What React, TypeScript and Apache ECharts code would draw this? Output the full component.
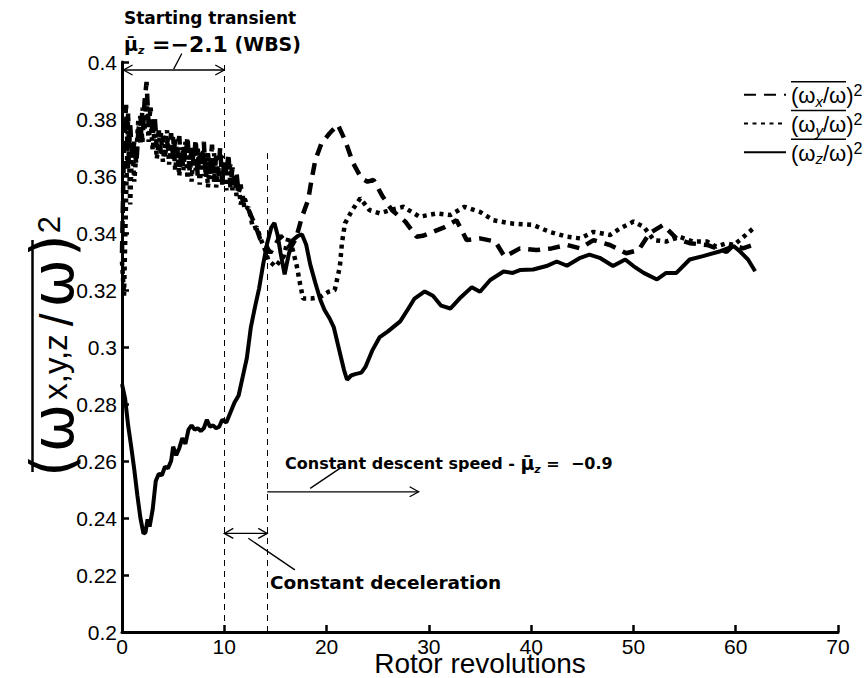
import React, { useEffect, useRef } from "react";
import * as echarts from "echarts";

// ---------- data ----------
const xAxisRange = { min: 0, max: 70, interval: 10 };
const yAxisRange = { min: 0.2, max: 0.4, interval: 0.02 };

// (ω_x/ω)² — dashed
const omegaX: [number, number][] = [
  [0, 0.333], [0.2, 0.372], [0.4, 0.385], [0.6, 0.362], [0.8, 0.378], [1.0, 0.366], [1.2, 0.372], [1.4, 0.364],
  [1.6, 0.376], [1.8, 0.381], [2.0, 0.372], [2.2, 0.386], [2.4, 0.393], [2.6, 0.378], [2.8, 0.384], [3.0, 0.374],
  [3.2, 0.381], [3.4, 0.37], [3.6, 0.376], [3.8, 0.368], [4.0, 0.374], [4.2, 0.367], [4.4, 0.372], [4.6, 0.369],
  [4.8, 0.375], [5.0, 0.366], [5.2, 0.373], [5.4, 0.368], [5.6, 0.374], [5.8, 0.363], [6.0, 0.371], [6.2, 0.366],
  [6.4, 0.374], [6.6, 0.362], [6.8, 0.37], [7.0, 0.364], [7.2, 0.373], [7.4, 0.36], [7.6, 0.369], [7.8, 0.363],
  [8.0, 0.372], [8.2, 0.359], [8.4, 0.368], [8.6, 0.362], [8.8, 0.371], [9.0, 0.358], [9.2, 0.367], [9.4, 0.361],
  [9.6, 0.37], [9.8, 0.357], [10.0, 0.366], [10.2, 0.36], [10.4, 0.368], [10.6, 0.356], [10.8, 0.363], [11.0, 0.357],
  [11.2, 0.361], [11.4, 0.354], [11.6, 0.357], [11.8, 0.351], [12.0, 0.352], [12.5, 0.347], [13.0, 0.343],
  [13.5, 0.338], [14.0, 0.336], [14.5, 0.333], [15.0, 0.336], [15.5, 0.339], [16.0, 0.337], [16.5, 0.335],
  [17.0, 0.338], [17.6, 0.3457], [18.2, 0.3516], [18.5, 0.358], [18.9, 0.3656], [19.5, 0.3715], [20.3, 0.375],
  [21.1, 0.378], [21.8, 0.3726], [22.6, 0.3645], [23.4, 0.3592], [24.0, 0.358], [24.6, 0.3586], [25.5, 0.3527],
  [26.4, 0.348], [27.7, 0.344], [28.8, 0.3387], [29.4, 0.339], [30.4, 0.3404], [31.5, 0.342], [32.7, 0.3445],
  [33.7, 0.3375], [35.0, 0.3381], [36.5, 0.337], [37.4, 0.3317], [38.9, 0.3346], [40.5, 0.334], [42.0, 0.3346],
  [43.5, 0.3358], [44.8, 0.3346], [46.1, 0.3375], [47.7, 0.3358], [49.3, 0.3329], [50.5, 0.334], [51.6, 0.34],
  [52.9, 0.3428], [54.2, 0.3381], [55.5, 0.3364], [57.2, 0.3358], [59.1, 0.3334], [59.8, 0.3358], [60.7, 0.3346],
  [61.7, 0.3358],
];

// (ω_y/ω)² — dotted
const omegaY: [number, number][] = [
  [0, 0.33], [0.2, 0.318], [0.4, 0.352], [0.6, 0.382], [0.8, 0.35], [1.0, 0.372], [1.2, 0.358], [1.4, 0.368],
  [1.6, 0.38], [1.8, 0.371], [2.0, 0.384], [2.2, 0.376], [2.4, 0.388], [2.6, 0.372], [2.8, 0.38], [3.0, 0.369],
  [3.2, 0.377], [3.4, 0.366], [3.6, 0.372], [3.8, 0.375], [4.0, 0.365], [4.2, 0.371], [4.4, 0.376], [4.6, 0.364],
  [4.8, 0.37], [5.0, 0.374], [5.2, 0.362], [5.4, 0.369], [5.6, 0.36], [5.8, 0.37], [6.0, 0.362], [6.2, 0.372],
  [6.4, 0.359], [6.6, 0.368], [6.8, 0.358], [7.0, 0.369], [7.2, 0.362], [7.4, 0.37], [7.6, 0.357], [7.8, 0.366],
  [8.0, 0.36], [8.2, 0.368], [8.4, 0.356], [8.6, 0.365], [8.8, 0.359], [9.0, 0.368], [9.2, 0.356], [9.4, 0.363],
  [9.6, 0.358], [9.8, 0.367], [10.0, 0.361], [10.2, 0.355], [10.4, 0.362], [10.6, 0.364], [10.8, 0.355],
  [11.0, 0.36], [11.2, 0.353], [11.4, 0.357], [11.6, 0.35], [11.8, 0.353], [12.0, 0.348], [12.4, 0.349],
  [12.8, 0.3416], [13.2, 0.342], [13.6, 0.3375], [14.0, 0.334], [14.3, 0.3305], [15.0, 0.3282], [15.8, 0.3317],
  [16.3, 0.3387], [16.7, 0.334], [17.1, 0.3282], [17.4, 0.3223], [17.7, 0.317], [18.5, 0.317], [19.4, 0.3176],
  [20.2, 0.3194], [20.8, 0.32], [21.3, 0.3282], [21.5, 0.3364], [21.8, 0.3434], [22.5, 0.348], [23.3, 0.3522],
  [24.2, 0.348], [25.2, 0.3469], [26.2, 0.348], [27.5, 0.3492], [29.1, 0.3457], [30.8, 0.3469], [32.1, 0.3463],
  [33.5, 0.3492], [35.0, 0.3474], [36.3, 0.3445], [37.9, 0.3434], [40.2, 0.3428], [41.8, 0.3404], [43.5, 0.3387],
  [44.8, 0.3381], [46.1, 0.3404], [47.7, 0.3393], [48.7, 0.3416], [50.0, 0.344], [51.0, 0.3422], [52.0, 0.3375],
  [53.2, 0.337], [54.5, 0.3387], [55.8, 0.337], [57.2, 0.337], [58.1, 0.3352], [59.1, 0.3364], [59.8, 0.3358],
  [60.4, 0.3375], [61.2, 0.34], [61.9, 0.3422],
];

// (ω_z/ω)² — solid
const omegaZ: [number, number][] = [
  [0, 0.287], [0.3, 0.282], [0.6, 0.2725], [0.9, 0.265], [1.2, 0.257], [1.5, 0.248], [1.8, 0.24], [2.1, 0.2345],
  [2.3, 0.235], [2.5, 0.2395], [2.7, 0.237], [3.0, 0.243], [3.3, 0.253], [3.6, 0.2555], [3.9, 0.255], [4.2, 0.258],
  [4.5, 0.2575], [4.8, 0.26], [5.0, 0.265], [5.3, 0.262], [5.6, 0.2645], [5.9, 0.268], [6.2, 0.266], [6.5, 0.271],
  [6.8, 0.2725], [7.1, 0.271], [7.4, 0.2715], [7.7, 0.2705], [8.0, 0.2715], [8.3, 0.2745], [8.6, 0.272],
  [8.9, 0.2725], [9.2, 0.2715], [9.5, 0.272], [9.8, 0.2745], [10.2, 0.2735], [10.6, 0.277], [11.0, 0.2805],
  [11.4, 0.283], [11.8, 0.2895], [12.2, 0.296], [12.6, 0.307], [13.0, 0.314], [13.4, 0.3205], [13.8, 0.329],
  [14.2, 0.3365], [14.6, 0.342], [14.9, 0.3435], [15.2, 0.3395], [15.5, 0.333], [15.9, 0.3255], [16.3, 0.3325],
  [16.7, 0.3375], [17.2, 0.339], [17.6, 0.3395], [18.0, 0.336], [18.4, 0.329], [18.9, 0.3225], [19.4, 0.3165],
  [19.8, 0.313], [20.3, 0.31], [20.7, 0.307], [21.3, 0.298], [21.7, 0.292], [22.0, 0.2885], [22.4, 0.29],
  [22.8, 0.2905], [23.4, 0.291], [23.8, 0.293], [24.5, 0.299], [25.2, 0.3035], [26.0, 0.3055], [27.2, 0.309],
  [28.0, 0.3135], [28.6, 0.317], [29.6, 0.3195], [30.4, 0.318], [31.2, 0.3145], [32.1, 0.3135], [33.0, 0.317],
  [34.2, 0.321], [35.0, 0.3194], [36.0, 0.3235], [37.3, 0.3265], [38.2, 0.326], [38.9, 0.327], [40.2, 0.3272],
  [41.5, 0.3284], [42.5, 0.33], [43.5, 0.3285], [44.8, 0.3313], [45.7, 0.3324], [46.7, 0.3313], [48.0, 0.3284],
  [49.2, 0.3307], [50.0, 0.3284], [51.0, 0.326], [52.3, 0.3237], [53.2, 0.326], [54.2, 0.326], [55.5, 0.3307],
  [56.8, 0.3319], [58.5, 0.3336], [59.8, 0.3354], [60.4, 0.3336], [61.2, 0.3307], [61.9, 0.3266],
];

const seriesKeys = ["x", "y", "z"];
const phaseBoundaries = [10, 14.2]; // end of start transient, end of deceleration (revolutions)
const decelLineTop = 0.368;

// ---------- styling ----------
const SANS = "'Liberation Sans', Arial, sans-serif";
const NARROW = "'Liberation Sans Narrow', 'Liberation Sans', Arial, sans-serif";
const GEO = "'DejaVu Sans', 'Noto Sans', sans-serif";

export default function App() {
  const ref = useRef<HTMLDivElement>(null);

  useEffect(() => {
    if (!ref.current) return;
    const chart = echarts.init(ref.current, undefined, { renderer: "svg" });

    const lineStyles: any[] = [
      { color: "#000", width: 4.5, type: [12, 8] },
      { color: "#000", width: 4.5, type: [4, 4.5] },
      { color: "#000", width: 4, type: "solid" },
    ];
    const datasets = [omegaX, omegaY, omegaZ];

    const series: any[] = seriesKeys.map((k, i) => ({
      name: k,
      type: "line",
      data: datasets[i],
      symbol: "none",
      smooth: false,
      lineStyle: lineStyles[i],
      itemStyle: { color: "#000" },
      z: 3 + i,
    }));
    series[2].markLine = {
      silent: true,
      symbol: "none",
      label: { show: false },
      lineStyle: { color: "#000", width: 1, type: [6, 5] },
      data: [
        [{ coord: [phaseBoundaries[0], yAxisRange.min] }, { coord: [phaseBoundaries[0], yAxisRange.max] }],
        [{ coord: [phaseBoundaries[1], yAxisRange.min] }, { coord: [phaseBoundaries[1], decelLineTop] }],
      ],
    };

    const option: any = {
      animation: false,
      backgroundColor: "#fff",
      grid: { left: 122, right: 27, top: 62, bottom: 46, containLabel: false, outerBoundsMode: "none" },
      legend: {
        orient: "vertical",
        left: 738,
        top: 76,
        itemWidth: 42,
        itemHeight: 14,
        itemGap: 1,
        data: seriesKeys,
        itemStyle: { color: "rgba(0,0,0,0)", borderWidth: 0, opacity: 0 },
        formatter: (n: string) => `{ol| }\n{p|(ω}{sub|${n}}{p|/ω)}{sup|2}`,
        textStyle: {
          color: "#000",
          fontFamily: SANS,
          rich: {
            ol: { width: 55, height: 1.5, backgroundColor: "#000", fontSize: 1, lineHeight: 2 },
            p: { fontSize: 22, fontFamily: SANS, color: "#000", lineHeight: 26 },
            sub: { fontSize: 15, fontStyle: "italic", fontFamily: SANS, color: "#000", lineHeight: 12, verticalAlign: "bottom" },
            sup: { fontSize: 16, fontFamily: SANS, color: "#000", lineHeight: 14, verticalAlign: "top" },
          },
        },
      },
      xAxis: {
        type: "value",
        min: xAxisRange.min,
        max: xAxisRange.max,
        interval: xAxisRange.interval,
        name: "Rotor revolutions",
        nameLocation: "middle",
        nameGap: 21,
        nameMoveOverlap: false,
        nameTextStyle: { fontSize: 28, fontFamily: SANS, color: "#000", lineHeight: 20 },
        axisLine: { show: true, lineStyle: { color: "#000", width: 3 } },
        axisTick: { show: true, inside: true, length: 7, lineStyle: { color: "#000", width: 2.5 } },
        axisLabel: { fontSize: 21, fontFamily: NARROW, color: "#000", margin: 4, lineHeight: 20 },
        splitLine: { show: false },
      },
      yAxis: {
        type: "value",
        min: yAxisRange.min,
        max: yAxisRange.max,
        interval: yAxisRange.interval,
        name: "{ol| }{sp| }\n{w|(}{w|ω}{sub|x,y,z}{sl|/}{w|ω}{w|)}{sup|2}",
        nameLocation: "middle",
        nameRotate: 90,
        nameGap: 50,
        nameMoveOverlap: false,
        nameTextStyle: {
          color: "#000",
          rich: {
            ol: { width: 232, height: 2.5, backgroundColor: "#000", fontSize: 1, lineHeight: 3 },
            sp: { width: 18, height: 2.5, fontSize: 1, lineHeight: 3 },
            w: { fontSize: 58, fontFamily: GEO, color: "#000", lineHeight: 38, padding: [0, 1] },
            sl: { fontSize: 46, fontFamily: SANS, color: "#000", lineHeight: 36, verticalAlign: "top", padding: [0, 5] },
            sub: { fontSize: 33, fontFamily: SANS, color: "#000", lineHeight: 22, verticalAlign: "bottom", padding: [0, 3] },
            sup: { fontSize: 31, fontFamily: SANS, color: "#000", lineHeight: 22, verticalAlign: "top" },
          },
        },
        axisLine: { show: true, lineStyle: { color: "#000", width: 3 } },
        axisTick: { show: true, inside: true, length: 7, lineStyle: { color: "#000", width: 2.5 } },
        axisLabel: {
          fontSize: 21,
          fontFamily: NARROW,
          color: "#000",
          margin: 5,
          formatter: (v: number) => String(+v.toFixed(2)),
        },
        splitLine: { show: false },
      },
      series,
    };
    chart.setOption(option);

    // ---------- annotations anchored in data coordinates ----------
    const P = (x: number, y: number) => chart.convertToPixel({ gridIndex: 0 } as any, [x, y]) as number[];
    const stroke = { stroke: "#000", lineWidth: 1.3, fill: null } as any;
    const seg = (a: number[], b: number[]) => ({
      type: "line",
      shape: { x1: a[0], y1: a[1], x2: b[0], y2: b[1] },
      style: stroke,
      silent: true,
    });
    const head = (p: number[], dir: number) => ({
      type: "polyline",
      shape: { points: [[p[0] - dir * 9, p[1] - 5], [p[0], p[1]], [p[0] - dir * 9, p[1] + 5]] },
      style: stroke,
      silent: true,
    });

    const tA = P(0.15, 0.3972), tB = P(phaseBoundaries[0], 0.3972);
    const dA = P(phaseBoundaries[0], 0.2346), dB = P(phaseBoundaries[1], 0.2346);
    const sA = P(phaseBoundaries[1], 0.2492), sB = P(29, 0.2492);

    const bold = { fontWeight: "bold", fontFamily: GEO, fill: "#000" };
    const muRich = {
      t: { fontSize: 16, fontWeight: "bold", fontFamily: GEO, color: "#000", lineHeight: 24 },
      mu: { fontSize: 19, fontWeight: "bold", fontFamily: GEO, color: "#000", lineHeight: 24 },
      s: { fontSize: 11, fontStyle: "italic", fontWeight: "bold", fontFamily: GEO, color: "#000", lineHeight: 12, verticalAlign: "bottom" },
      big: { fontSize: 22, fontWeight: "bold", fontFamily: GEO, color: "#000", lineHeight: 24 },
      sm: { fontSize: 19, fontWeight: "bold", fontFamily: GEO, color: "#000", lineHeight: 24 },
    };

    const graphic: any[] = [
      // starting transient
      seg(tA, tB), head(tA, -1), head(tB, 1),
      seg(P(5.85, 0.403), P(5.05, 0.3975)),
      { type: "text", x: 124, y: 18, silent: true, style: { ...bold, text: "Starting transient", fontSize: 17, verticalAlign: "middle" } },
      { type: "text", x: 124, y: 44, silent: true, style: { text: "{mu|μ\u0304}{s|z}{big| =−2.1}{sm| (WBS)}", rich: muRich, verticalAlign: "middle", fill: "#000" } },
      // constant deceleration
      seg(dA, dB), head(dA, -1), head(dB, 1),
      seg(P(12.35, 0.2329), P(16.9, 0.2218)),
      { type: "text", x: 270, y: 582, silent: true, style: { ...bold, text: "Constant deceleration", fontSize: 18.5, verticalAlign: "middle" } },
      // constant descent speed
      seg(sA, sB), head(sB, 1),
      seg(P(21.3, 0.2574), P(18.4, 0.2504)),
      { type: "text", x: 285, y: 463, silent: true, style: { text: "{t|Constant descent speed - }{mu|μ\u0304}{s|z}{t| =  −0.9}", rich: muRich, verticalAlign: "middle", fill: "#000" } },
    ];
    chart.setOption({ graphic });

    return () => chart.dispose();
  }, []);

  return <div ref={ref} style={{ width: 865, height: 678, position: "absolute", left: 0, top: 0 }} />;
}
